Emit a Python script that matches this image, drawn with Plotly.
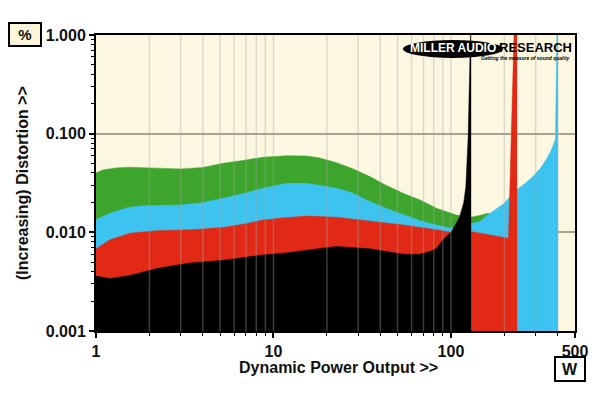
import numpy as np
import plotly.graph_objects as go

# ---- data (W, % THD) ----
green_w = [1.0, 1.1, 1.3, 1.55, 2.0, 2.5, 3.0, 4.0, 5.2, 7.0, 8.7, 11.9, 15.4, 18, 22.7, 28, 34.9, 43, 53.8, 68, 83, 107, 128, 145, 161, 175]
green_v = [0.040, 0.043, 0.045, 0.0457, 0.0450, 0.0442, 0.0439, 0.0455, 0.050, 0.054, 0.0577, 0.0598, 0.0595, 0.057, 0.0508, 0.044, 0.0367, 0.030, 0.0249, 0.021, 0.0175, 0.0150, 0.0142, 0.0148, 0.0156, 0.015]

blue_w = [1.0, 1.2, 1.5, 1.77, 2.2, 2.97, 4.0, 5.2, 7.0, 8.7, 11.9, 15.4, 22.7, 28, 34.9, 43, 53.8, 68, 83, 100, 128, 145, 161, 176, 200, 215, 235, 260, 291, 320, 347, 370, 388, 397, 401]
blue_v = [0.0135, 0.0156, 0.0178, 0.0185, 0.0187, 0.0189, 0.0200, 0.0221, 0.025, 0.028, 0.0314, 0.0314, 0.0280, 0.025, 0.0205, 0.0175, 0.0150, 0.013, 0.0119, 0.0110, 0.0122, 0.0128, 0.0150, 0.0169, 0.0197, 0.023, 0.027, 0.031, 0.037, 0.045, 0.056, 0.07, 0.088, 2.0, 2.0]

red_w = [1.0, 1.2, 1.55, 2.2, 3.4, 5.2, 7.0, 8.7, 11.9, 15.4, 22.7, 34.9, 53.8, 83, 100, 129, 166, 211, 229, 236]
red_v = [0.0068, 0.0084, 0.0098, 0.0104, 0.0106, 0.0112, 0.0122, 0.0133, 0.0141, 0.0146, 0.0142, 0.0129, 0.0119, 0.0106, 0.0100, 0.0102, 0.0094, 0.0087, 2.0, 2.0]

black_w = [1.0, 1.2, 1.55, 2.2, 3.4, 5.2, 8.7, 11.9, 15.4, 22.7, 34.9, 53.8, 66.9, 76, 83, 90, 100.6, 112, 118, 121.3, 125, 127.5, 130]
black_v = [0.0036, 0.0034, 0.00365, 0.0043, 0.0049, 0.0052, 0.0059, 0.0062, 0.0066, 0.0072, 0.0068, 0.0060, 0.0060, 0.0064, 0.0069, 0.0084, 0.0101, 0.0144, 0.020, 0.029, 0.093, 2.0, 2.0]

x_major = [1, 10, 100, 500]
x_major_text = ["1", "10", "100", "500"]
x_minor = [2, 3, 4, 5, 6, 7, 8, 9, 20, 30, 40, 50, 60, 70, 80, 90, 200, 300, 400]
y_major = [0.001, 0.01, 0.1, 1.0]
y_major_text = ["0.001", "0.010", "0.100", "1.000"]
y_minor = [m * d for d in (0.001, 0.01, 0.1) for m in range(2, 10)]

FONT = "Liberation Sans"
# page body has an 8px margin; plot area target (window px): x 96..575, y 35..331
PL, PR, PT, PB = 96, 575, 35, 331
PW, PH = PR - PL, PB - PT


def px(x):
    return (x - PL) / PW


def py(y):
    return (PB - y) / PH


fig = go.Figure()
for w, v, c in [(green_w, green_v, "#3da52b"), (blue_w, blue_v, "#3cc3ef"),
                (red_w, red_v, "#e12916"), (black_w, black_v, "#000000")]:
    fig.add_trace(go.Scatter(x=w, y=v, mode="lines", fill="tozeroy",
                             line=dict(color=c, width=0.5), fillcolor=c,
                             hoverinfo="skip", showlegend=False))

# vertical grid lines drawn above the fills (at the minor/major tick values)
for v in x_minor + [10, 100]:
    fig.add_shape(type="line", xref="x", yref="y domain", x0=v, x1=v,
                  y0=0, y1=1, layer="above", line=dict(color="rgba(165,165,165,0.36)", width=1.5))

fig.update_layout(
    width=592, height=390, autosize=False,
    margin=dict(l=PL - 8, r=592 - (PR - 8), t=PT - 8, b=390 - (PB - 8)),
    paper_bgcolor="white", plot_bgcolor="#fcf7e0",
    font=dict(family=FONT, color="#111111"),
    xaxis=dict(type="log", range=[0, np.log10(500)], tickvals=x_major, ticktext=x_major_text,
               ticks="outside", ticklen=5, tickwidth=1.5, tickcolor="black", automargin=False,
               showline=True, linecolor="black", linewidth=2, mirror=True,
               showgrid=False, zeroline=False,
               tickfont=dict(size=16, family=FONT, weight="bold", color="#111111"),
               minor=dict(tickvals=x_minor, ticks="outside", ticklen=3, tickwidth=1, tickcolor="black", showgrid=False)),
    yaxis=dict(type="log", range=[-3, 0], tickvals=y_major, ticktext=y_major_text,
               ticks="outside", ticklen=5, tickwidth=1.5, tickcolor="black", automargin=False,
               showline=True, linecolor="black", linewidth=2, mirror=True,
               showgrid=True, gridcolor="#a6a298", gridwidth=1.5, zeroline=False,
               tickfont=dict(size=16, family=FONT, weight="bold", color="#111111"),
               minor=dict(tickvals=y_minor, ticks="outside", ticklen=3, tickwidth=1, tickcolor="black", showgrid=False)),
)

TXT = dict(size=16, family=FONT, weight="bold", color="#111111")

# axis titles
fig.add_annotation(text="Dynamic Power Output >>", xref="paper", yref="paper", x=px(338), y=py(367),
                   xanchor="center", yanchor="middle", showarrow=False, font=TXT)
fig.add_annotation(text="(Increasing) Distortion >>", xref="paper", yref="paper", x=px(22), y=py(183),
                   textangle=-90, xanchor="center", yanchor="middle", showarrow=False, font=TXT)

# unit boxes
fig.add_annotation(text="%", xref="paper", yref="paper", x=px(25), y=py(34),
                   xanchor="center", yanchor="middle",
                   showarrow=False, bgcolor="#fcf6d8", bordercolor="black", borderwidth=2,
                   width=28, height=19, font=dict(size=15, family=FONT, weight="bold", color="#111111"))
fig.add_annotation(text="W", xref="paper", yref="paper", x=px(570), y=py(369),
                   xanchor="center", yanchor="middle",
                   showarrow=False, bgcolor="white", bordercolor="black", borderwidth=2,
                   width=26, height=20, font=TXT)

# logo
fig.add_shape(type="circle", xref="paper", yref="paper",
              x0=px(403), x1=px(503), y0=py(58), y1=py(40),
              fillcolor="black", line=dict(color="black", width=0), layer="above")
fig.add_annotation(text="MILLER AUDIO", xref="paper", yref="paper", x=px(453), y=py(48),
                   xanchor="center", yanchor="middle",
                   showarrow=False, font=dict(size=12, family=FONT, weight="bold", color="white"))
fig.add_annotation(text="RESEARCH", xref="paper", yref="paper", x=px(574), y=py(47),
                   xanchor="right", yanchor="middle", showarrow=False,
                   font=dict(size=13, family=FONT, weight="bold", color="black"))
fig.add_annotation(text="<i>Getting the measure of sound quality</i>", xref="paper", yref="paper",
                   x=px(572), y=py(58), xanchor="right", yanchor="middle",
                   showarrow=False, font=dict(size=5, family=FONT, weight="bold", color="black"))

fig.write_html("out.html")
